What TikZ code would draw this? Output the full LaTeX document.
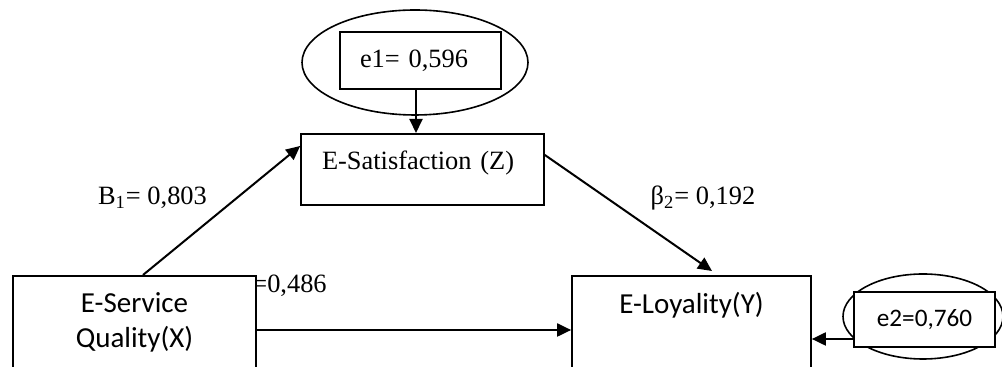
\documentclass[tikz,border=0pt]{standalone}
\usepackage{fontspec}
\setmainfont{Liberation Serif}
\newfontfamily\calfont{Carlito}
\usetikzlibrary{shapes.geometric,arrows.meta}
\begin{document}
\begin{tikzpicture}[x=0.5pt,y=-0.5pt,
  box/.style={draw,line width=0.85pt,fill=white,rectangle,inner sep=0pt},
  ell/.style={draw,line width=0.8pt,ellipse,inner sep=0pt},
  arr/.style={line width=1pt,-{Triangle[length=7pt,width=6.5pt]}},
  tnr/.style={font=\fontsize{13.2}{15}\selectfont},
  cal/.style={font=\calfont\fontsize{14.5}{17.5}\selectfont}]
\useasboundingbox (0,0) rectangle (1002,367);
\clip (0,0) rectangle (1002,367);
% error term e1
\node[ell,minimum width=113pt,minimum height=52.5pt] (e1ell) at (415,62.5) {};
\node[box,tnr,text width=60.5pt,align=left,inner xsep=10pt,minimum height=28.5pt] (e1box) at (420.5,60.5) {e1= 0,596};
% coefficient labels
\node[tnr,anchor=base] (b1) at (152.5,205) {B\textsubscript{1}= 0,803};
\node[tnr,anchor=base] (b2) at (703,205) {β\textsubscript{2}= 0,192};
\node[tnr,anchor=base west,inner sep=0pt] (b3) at (252,293) {=0,486};
% variables
\node[box,tnr,anchor=north,text width=100.5pt,align=left,inner xsep=10.5pt,inner ysep=0pt,text height=18pt,text depth=17.5pt] (Z) at (422.5,133) {E-Satisfaction (Z)};
\node[box,cal,anchor=north,minimum width=121.5pt,minimum height=46.5pt,align=center] (X) at (134.5,275) {E-Service\\Quality(X)};
\node[box,cal,anchor=north,minimum width=119.5pt,text height=19pt,text depth=28pt,inner ysep=0pt] (Y) at (691.5,275) {E-Loyality(Y)};
% error term e2
\node[ell,minimum width=80pt,minimum height=42.5pt] (e2ell) at (923,316.5) {};
\node[box,font=\calfont\fontsize{12.6}{15}\selectfont,minimum width=70.5pt,minimum height=27.5pt] (e2box) at (924.5,319.5) {e2=0,760};
% connectors
\coordinate (e1a) at ([xshift=-2.25pt]e1box.south);
\draw[arr] (e1a) -- (e1a |- Z.north);
\draw[arr] ([xshift=4.25pt]X.north) -- ([yshift=-6.5pt]Z.north west);
\draw[arr] ([yshift=-11pt]Z.north east) -- ([xshift=10.25pt,yshift=2pt]Y.north);
\coordinate (hline) at (0,330);
\draw[arr] (X.east |- hline) -- (Y.west |- hline);
\coordinate (e2a) at ([yshift=-9.75pt]e2box.west);
\draw[arr] (e2a) -- (e2a -| Y.east);
\end{tikzpicture}
\end{document}
